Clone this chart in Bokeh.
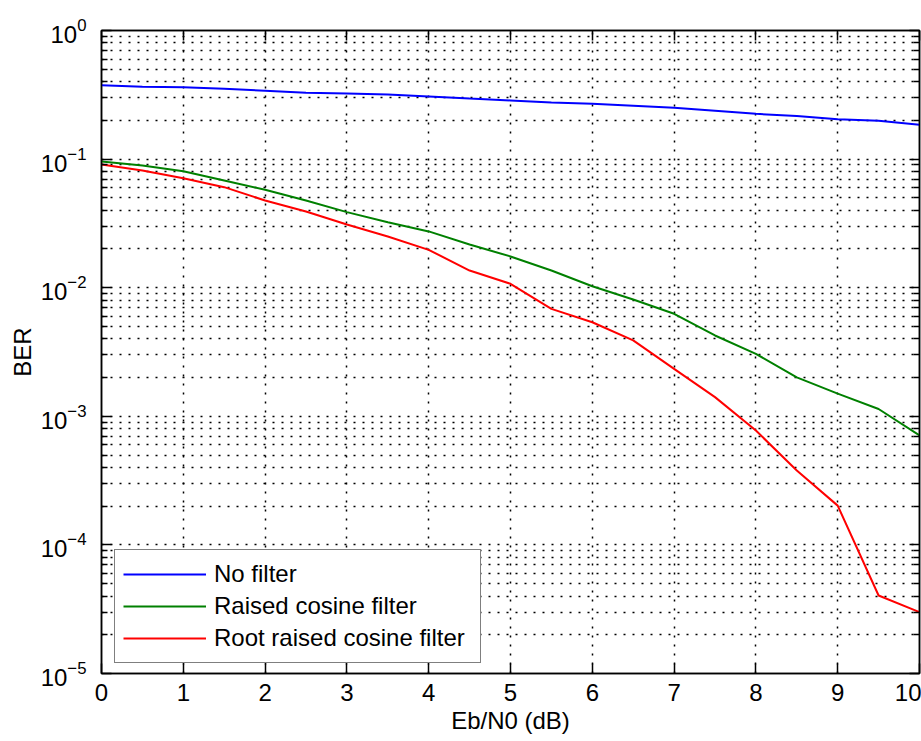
from bokeh.plotting import figure
from bokeh.models import (Range1d, LinearAxis, LogAxis, FixedTicker, Legend, LegendItem,
                          CustomJSTickFormatter)
from bokeh.embed import file_html
from bokeh.resources import INLINE

# ---- data ----
ebn0 = [0, 0.5, 1, 1.5, 2, 2.5, 3, 3.5, 4, 4.5, 5, 5.5, 6, 6.5, 7, 7.5, 8, 8.5, 9, 9.5, 10]
ber_no_filter = [0.376, 0.365, 0.362, 0.352, 0.340, 0.328, 0.323, 0.318, 0.307, 0.296, 0.286,
                 0.276, 0.269, 0.260, 0.251, 0.238, 0.225, 0.216, 0.204, 0.199, 0.185]
ber_rc = [0.0958, 0.0892, 0.0805, 0.0682, 0.0577, 0.0477, 0.0387, 0.0323, 0.0274, 0.0217, 0.0175,
          0.0136, 0.01027, 0.0081, 0.00627, 0.00425, 0.00306, 0.00201, 0.0015, 0.00114, 0.00071]
ber_rrc = [0.0908, 0.0815, 0.0710, 0.0605, 0.0477, 0.0391, 0.0310, 0.0250, 0.0197, 0.0136, 0.01072,
           0.00685, 0.00539, 0.00389, 0.00234, 0.00141, 0.000775, 0.000379, 0.000202, 4.04e-5, 3.0e-5]
series_labels = ["No filter", "Raised cosine filter", "Root raised cosine filter"]
series_colors = ["#0000ff", "#008000", "#ff0000"]
x_ticks = [0, 1, 2, 3, 4, 5, 6, 7, 8, 9, 10]
y_exponents = [-5, -4, -3, -2, -1, 0]

FONT = "Liberation Sans"
FS = "24px"

y_major = [10.0 ** e for e in y_exponents]
y_minor = [m * 10.0 ** e for e in y_exponents[:-1] for m in range(2, 10)]

p = figure(width=921, height=741, x_range=Range1d(0, 10), y_range=Range1d(1e-5, 1),
           y_axis_type="log", output_backend="svg", toolbar_location=None,
           min_border_left=101, min_border_right=2, min_border_top=30, min_border_bottom=68)
p.outline_line_color = "black"
p.outline_line_width = 1.5
p.background_fill_color = "white"
p.border_fill_color = "white"

xt = FixedTicker(ticks=x_ticks)
yt = FixedTicker(ticks=y_major, minor_ticks=y_minor)

for ax in p.xaxis:
    ax.ticker = xt
    ax.axis_label = "Eb/N0 (dB)"
for ax in p.yaxis:
    ax.ticker = yt
    ax.axis_label = "BER"

for ax in list(p.xaxis) + list(p.yaxis):
    ax.axis_line_color = "black"
    ax.axis_line_width = 1.5
    ax.major_tick_in = 10
    ax.major_tick_out = 0
    ax.minor_tick_in = 6
    ax.minor_tick_out = 0
    ax.major_tick_line_color = "black"
    ax.minor_tick_line_color = "black"
    ax.major_tick_line_width = 1.5
    ax.minor_tick_line_width = 1.5
    ax.major_label_text_font = FONT
    ax.major_label_text_font_size = FS
    ax.major_label_text_color = "black"
    ax.axis_label_text_font = FONT
    ax.axis_label_text_font_size = FS
    ax.axis_label_text_font_style = "normal"
    ax.axis_label_text_color = "black"

p.xaxis.major_label_standoff = 10
p.xaxis.axis_label_standoff = 3
p.yaxis.major_label_standoff = 15
p.yaxis.axis_label_standoff = 2

# mirrored tick axes (top / right), no labels
blank = CustomJSTickFormatter(code="return ''")
top = LinearAxis(ticker=xt, formatter=blank)
right = LogAxis(ticker=yt, formatter=blank)
for ax in (top, right):
    ax.axis_line_color = "black"
    ax.axis_line_width = 1.5
    ax.major_tick_in = 10
    ax.major_tick_out = 0
    ax.minor_tick_in = 6
    ax.minor_tick_out = 0
    ax.major_tick_line_width = 1.5
    ax.minor_tick_line_width = 1.5
    ax.major_label_text_font_size = "1px"
    ax.major_label_text_color = None
    ax.major_label_standoff = 0
p.add_layout(top, "above")
p.add_layout(right, "right")

# dotted MATLAB-style grid
for g in (p.xgrid[0], p.ygrid[0]):
    g.grid_line_color = "black"
    g.grid_line_alpha = 1
    g.grid_line_width = 1.5
    g.grid_line_dash = "2 7"
p.ygrid[0].minor_grid_line_color = "black"
p.ygrid[0].minor_grid_line_alpha = 1
p.ygrid[0].minor_grid_line_width = 1.5
p.ygrid[0].minor_grid_line_dash = "2 7"

series = [ber_no_filter, ber_rc, ber_rrc]
items = []
for lab, col, ys in zip(series_labels, series_colors, series):
    r = p.line(ebn0, ys, line_color=col, line_width=2)
    items.append(LegendItem(label=lab, renderers=[r]))

legend = Legend(items=items, location=(13, 10), padding=8, spacing=0,
                label_height=32, glyph_height=32, glyph_width=83, label_standoff=8,
                label_width=258, label_text_font=FONT, label_text_font_size=FS,
                label_text_color="black", border_line_color="black", border_line_width=1.5,
                background_fill_color="white", background_fill_alpha=1, margin=0)
p.add_layout(legend, "center")

open("out.html", "w").write(file_html(p, INLINE))
